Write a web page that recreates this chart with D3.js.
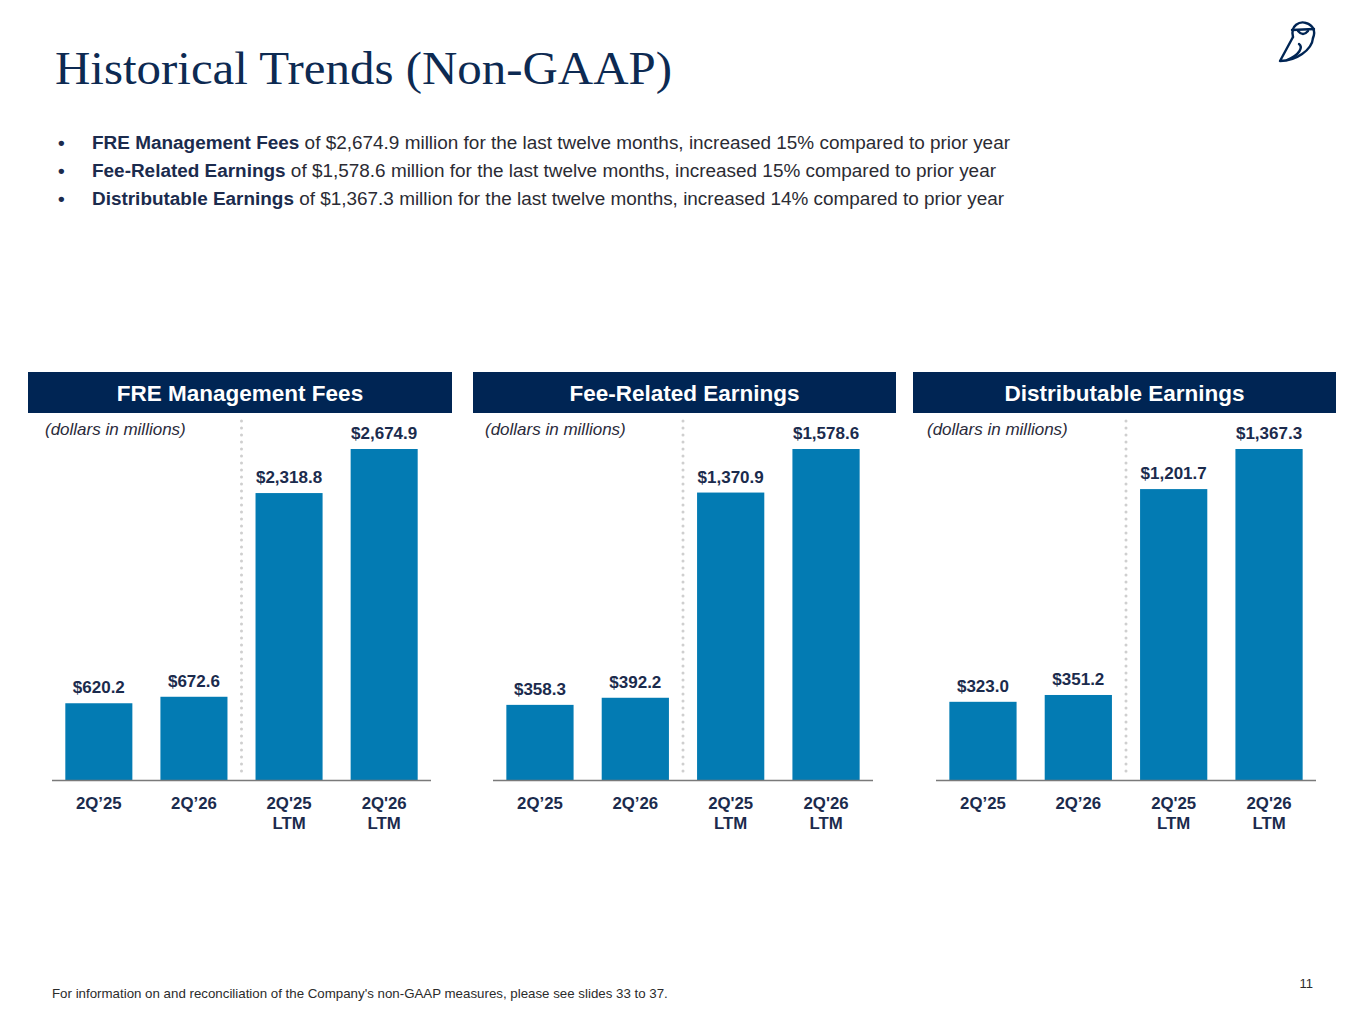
<!DOCTYPE html>
<html><head><meta charset="utf-8">
<script src="https://cdn.jsdelivr.net/npm/d3@7"></script>
<style>body{margin:0;background:#fff} svg{display:block}</style>
</head><body><svg id="c" width="1365" height="1024"></svg>
<script>
// ---- data ----
const categories = ["2Q’25", "2Q’26", "2Q'25\nLTM", "2Q'26\nLTM"];
const panelTitles = ["FRE Management Fees", "Fee-Related Earnings", "Distributable Earnings"];
const freManagementFees = [620.2, 672.6, 2318.8, 2674.9];
const feeRelatedEarnings = [358.3, 392.2, 1370.9, 1578.6];
const distributableEarnings = [323.0, 351.2, 1201.7, 1367.3];
const unitNote = "(dollars in millions)";
const titleText = "Historical Trends (Non-GAAP)";
const bulletBold = ["FRE Management Fees", "Fee-Related Earnings", "Distributable Earnings"];
const bulletRest = [
  " of $2,674.9 million for the last twelve months, increased 15% compared to prior year",
  " of $1,578.6 million for the last twelve months, increased 15% compared to prior year",
  " of $1,367.3 million for the last twelve months, increased 14% compared to prior year"
];
const footnote = "For information on and reconciliation of the Company's non-GAAP measures, please see slides 33 to 37.";
const pageNumber = "11";

// ---- style ----
const NAVY = "#002554", TXT = "#1b2b4d", BAR = "#037bb3";
const FONT = "Arial, 'Liberation Sans', sans-serif";
const svg = d3.select("#c");

// title
svg.append("text").attr("x", 55).attr("y", 84)
  .attr("font-family", "Georgia, 'Liberation Serif', serif").attr("font-size", 47)
  .attr("fill", "#0d2a52").attr("textLength", 617).attr("lengthAdjust", "spacingAndGlyphs")
  .text(titleText);

// logo (owl)
const logo = svg.append("g").attr("fill", "none").attr("stroke", NAVY).attr("stroke-width", 2.4)
  .attr("stroke-linecap", "round").attr("stroke-linejoin", "round");
logo.append("path").attr("d", "M1293,37 C1290,25 1300,21 1306,23 C1313,25 1316,31 1313,38");
logo.append("path").attr("d", "M1292,30 L1314,29");
logo.append("path").attr("d", "M1298,31 Q1303,37 1308,31");
logo.append("path").attr("d", "M1293,37 L1280,61 C1296,61 1312,50 1313,38");
logo.append("path").attr("d", "M1299,44 C1303,47 1300,55 1287,60");

// bullets
const bulletWidths = [918, 904, 912];
const bl = svg.append("g").attr("font-family", FONT).attr("font-size", 17.5);
bulletBold.forEach((b, i) => {
  const y = 149 + i * 28;
  bl.append("text").attr("x", 58).attr("y", y).attr("fill", TXT).attr("font-size", 19).attr("font-weight", "bold").text("•");
  const t = bl.append("text").attr("x", 92).attr("y", y)
    .attr("textLength", bulletWidths[i]).attr("lengthAdjust", "spacingAndGlyphs");
  t.append("tspan").attr("font-weight", "bold").attr("fill", TXT).text(b);
  t.append("tspan").attr("fill", "#2b2b33").text(bulletRest[i]);
});

// panels
const panels = [
  {title: panelTitles[0], values: freManagementFees, hx: [28, 452], ax: [52, 431], note: 45},
  {title: panelTitles[1], values: feeRelatedEarnings, hx: [473, 896], ax: [493, 873], note: 485},
  {title: panelTitles[2], values: distributableEarnings, hx: [913, 1336], ax: [936, 1316], note: 927}
];
const baseY = 780, maxH = 331;
const fmt = d3.format("$,.1f");

panels.forEach(p => {
  const g = svg.append("g");
  g.append("rect").attr("x", p.hx[0]).attr("y", 372).attr("width", p.hx[1] - p.hx[0]).attr("height", 41).attr("fill", NAVY);
  g.append("text").attr("x", (p.hx[0] + p.hx[1]) / 2).attr("y", 401).attr("text-anchor", "middle")
    .attr("font-family", FONT).attr("font-weight", "bold").attr("font-size", 22.5)
    .attr("fill", "#fff").text(p.title);
  g.append("text").attr("x", p.note).attr("y", 435)
    .attr("font-family", FONT).attr("font-style", "italic").attr("font-size", 17)
    .attr("fill", "#2b2b3b").text(unitNote);

  const x = d3.scaleBand().domain(categories).range(p.ax).paddingInner(0.295).paddingOuter(0.14);
  const y = d3.scaleLinear().domain([0, d3.max(p.values)]).range([baseY, baseY - maxH]);

  // separator
  const sx = (x(categories[1]) + x.bandwidth() + x(categories[2])) / 2;
  g.append("line").attr("x1", sx).attr("x2", sx).attr("y1", 421).attr("y2", baseY - 2)
    .attr("stroke", "#cfcfcf").attr("stroke-width", 3).attr("stroke-linecap", "round").attr("stroke-dasharray", "0,7");

  g.selectAll("rect.bar").data(p.values).join("rect").attr("class", "bar")
    .attr("x", (d, i) => x(categories[i])).attr("width", x.bandwidth())
    .attr("y", d => y(d)).attr("height", d => baseY - y(d)).attr("fill", BAR);

  g.selectAll("text.val").data(p.values).join("text").attr("class", "val")
    .attr("x", (d, i) => x(categories[i]) + x.bandwidth() / 2).attr("y", d => y(d) - 10)
    .attr("text-anchor", "middle").attr("font-family", FONT)
    .attr("font-weight", "bold").attr("font-size", 17).attr("fill", TXT).text(d => fmt(d));

  // axis
  const axis = d3.axisBottom(x).tickSize(0).tickPadding(0);
  const ag = g.append("g").attr("transform", `translate(0,${baseY})`).call(axis);
  ag.select(".domain").attr("stroke", "#7a7a7a").attr("stroke-width", 1.5).attr("d", `M${p.ax[0]},0.5H${p.ax[1]}`);
  ag.selectAll(".tick text").each(function(d) {
    const t = d3.select(this).text(null).attr("y", null).attr("dy", null)
      .attr("font-family", FONT).attr("font-weight", "bold")
      .attr("font-size", 16.8).attr("fill", TXT);
    d.split("\n").forEach((ln, k) => t.append("tspan").attr("x", 0).attr("y", 29 + k * 20).text(ln));
  });
});

// footer
svg.append("text").attr("x", 52).attr("y", 998).attr("font-family", FONT)
  .attr("font-size", 13.3).attr("fill", "#2b2b2b").text(footnote);
svg.append("text").attr("x", 1313).attr("y", 988).attr("text-anchor", "end").attr("font-family", FONT)
  .attr("font-size", 13).attr("fill", "#2b2b2b").text(pageNumber);
</script></body></html>
